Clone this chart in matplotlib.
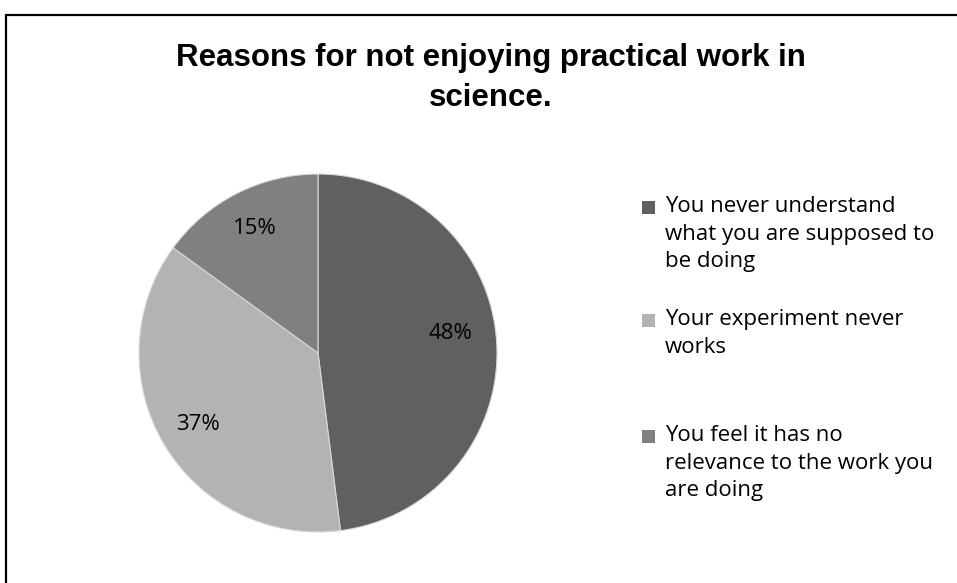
import matplotlib
matplotlib.use("Agg")
import matplotlib.pyplot as plt
from matplotlib.patches import Rectangle

title = "Reasons for not enjoying practical work in\nscience."
labels = ["You never understand\nwhat you are supposed to\nbe doing",
          "Your experiment never\nworks",
          "You feel it has no\nrelevance to the work you\nare doing"]
values = [48, 37, 15]
colors = ["#606060", "#b3b3b3", "#808080"]

W, H = 957, 583
fig = plt.figure(figsize=(W / 100, H / 100), dpi=100)
fig.patch.set_facecolor("white")

# pie centred at about (318, 353) px, radius ~179 px
cx, cy, r = 318, 353, 179
ax = fig.add_axes([(cx - r) / W, 1 - (cy + r) / H, 2 * r / W, 2 * r / H])
wedges, texts, pcts = ax.pie(values, colors=colors, startangle=90,
                             counterclock=False, autopct="%d%%",
                             pctdistance=0.78,
                             wedgeprops=dict(edgecolor="#d8d8d8", linewidth=0.8),
                             textprops=dict(fontsize=16, color="black",
                                            family="Open Sans"))
# the big slice's label sits a little higher in the original
x0, y0 = pcts[0].get_position()
pcts[0].set_position((x0 - 0.04, y0 + 0.06))
ax.set_xlim(-1, 1)
ax.set_ylim(-1, 1)
ax.set_aspect("equal")
ax.axis("off")

fig.text(491 / W, 1 - 78 / H, title, ha="center", va="center",
         fontsize=22.5, fontweight="bold", family="Liberation Sans",
         linespacing=1.45)

# legend, drawn by hand
entry_y = [207, 320, 436]
for lab, col, y in zip(labels, colors, entry_y):
    fig.patches.append(Rectangle((642 / W, 1 - (y + 7) / H), 13 / W, 13 / H,
                                 transform=fig.transFigure, facecolor=col,
                                 edgecolor="none"))
    fig.text(665 / W, 1 - (y - 11) / H, lab, ha="left", va="top",
             fontsize=16, family="Open Sans", linespacing=1.42)

# chart border, running off the right and bottom edges
fig.patches.append(Rectangle((6 / W, -0.1), 1.2, (H - 15) / H + 0.1,
                             transform=fig.transFigure, fill=False,
                             edgecolor="black", linewidth=1.6))

fig.savefig("out.png", dpi=100)
